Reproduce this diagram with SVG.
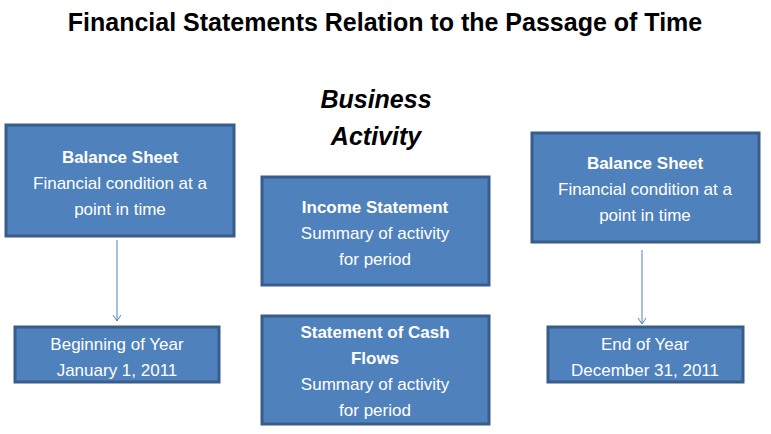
<svg xmlns="http://www.w3.org/2000/svg" width="771" height="434" viewBox="0 0 771 434">
<style>
.b{fill:#4F81BD;stroke:#385D8A;stroke-width:3}
.t{font-family:"Liberation Sans",Arial,sans-serif;font-size:17px;fill:#fff;text-anchor:middle}
.h{font-weight:bold}
</style>
<defs><marker id="a" markerWidth="10" markerHeight="10" refX="6" refY="4" orient="auto" markerUnits="userSpaceOnUse"><path d="M0,0 L6,4 L0,8" fill="none" stroke="#4F81BD" stroke-width="1"/></marker></defs>
<rect width="771" height="434" fill="#fff"/>
<text x="385" y="31" font-family="Liberation Sans,Arial,sans-serif" font-size="25" font-weight="bold" text-anchor="middle">Financial Statements Relation to the Passage of Time</text>
<text font-family="Liberation Sans,Arial,sans-serif" font-size="25" font-weight="bold" font-style="italic" text-anchor="middle"><tspan x="376" y="108">Business</tspan><tspan x="376" y="145">Activity</tspan></text>
<g id="bs1"><rect class="b" x="6" y="125" width="228" height="111"/><text class="t"><tspan x="120" y="163" class="h">Balance Sheet</tspan><tspan x="120" y="189">Financial condition at a</tspan><tspan x="120" y="215">point in time</tspan></text></g>
<g id="bs2"><rect class="b" x="532" y="133" width="227" height="109"/><text class="t"><tspan x="645" y="169" class="h">Balance Sheet</tspan><tspan x="645" y="195">Financial condition at a</tspan><tspan x="645" y="221">point in time</tspan></text></g>
<g id="is"><rect class="b" x="262" y="177" width="227" height="108"/><text class="t"><tspan x="375" y="213" class="h">Income Statement</tspan><tspan x="375" y="239">Summary of activity</tspan><tspan x="375" y="265">for period</tspan></text></g>
<g id="cf"><rect class="b" x="262" y="316" width="227" height="108"/><text class="t"><tspan x="375" y="338" class="h">Statement of Cash</tspan><tspan x="375" y="364" class="h">Flows</tspan><tspan x="375" y="390">Summary of activity</tspan><tspan x="375" y="416">for period</tspan></text></g>
<g id="boy"><rect class="b" x="15" y="327" width="204" height="55"/><text class="t"><tspan x="117" y="350">Beginning of Year</tspan><tspan x="117" y="376">January 1, 2011</tspan></text></g>
<g id="eoy"><rect class="b" x="548" y="327" width="195" height="55"/><text class="t"><tspan x="645" y="350">End of Year</tspan><tspan x="645" y="376">December 31, 2011</tspan></text></g>
<g id="connectors" stroke="#4F81BD" stroke-width="1" fill="none">
<line x1="117" y1="240" x2="117" y2="321" marker-end="url(#a)"/>
<line x1="642" y1="250" x2="642" y2="324" marker-end="url(#a)"/>
</g>
</svg>
